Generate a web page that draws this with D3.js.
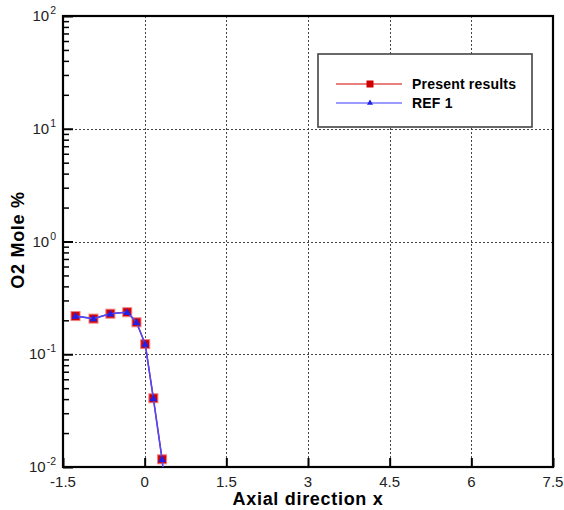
<!DOCTYPE html>
<html>
<head>
<meta charset="utf-8">
<script src="https://cdn.jsdelivr.net/npm/d3@7"></script>
<style>
  html, body { margin: 0; padding: 0; background: #fff; }
  svg { display: block; font-family: "Liberation Sans", Arial, sans-serif; }
</style>
</head>
<body>
<svg id="chart" width="564" height="510"></svg>
<script>
// Axial positions of the sampled stations
const xPresent = [-1.27, -0.94, -0.63, -0.32, -0.15, 0.01, 0.16, 0.32];
// O2 mole fraction (%) from the present computation
const yPresent = [0.218, 0.207, 0.229, 0.236, 0.192, 0.123, 0.0407, 0.0117];
// Reference data (REF 1); the last station falls below the plotted range
const xRef = [-1.27, -0.94, -0.63, -0.32, -0.15, 0.01, 0.16, 0.32, 0.36];
const yRef = [0.218, 0.207, 0.229, 0.236, 0.192, 0.123, 0.0407, 0.0117, 0.008];

const xTicks = [-1.5, 0, 1.5, 3, 4.5, 6, 7.5];
const xTickLabels = ["-1.5", "0", "1.5", "3", "4.5", "6", "7.5"];
const yDecades = [-2, -1, 0, 1, 2];
const seriesNames = ["Present results", "REF 1"];

const svg = d3.select("#chart");
const L = 63, R = 553, T = 16, B = 467;

const x = d3.scaleLinear().domain([-1.5, 7.5]).range([L, R]);
const y = d3.scaleLog().domain([0.01, 100]).range([B, T]);

svg.append("defs").append("clipPath").attr("id", "plot-clip")
  .append("rect").attr("x", L).attr("y", T).attr("width", R - L).attr("height", B - T);

// Dotted grid at interior major ticks
const grid = svg.append("g").attr("stroke", "#444").attr("stroke-width", 1)
  .attr("stroke-dasharray", "2,2").attr("shape-rendering", "crispEdges");
xTicks.slice(1, -1).forEach(v => {
  grid.append("line").attr("x1", Math.round(x(v)) + 0.5).attr("x2", Math.round(x(v)) + 0.5)
    .attr("y1", T).attr("y2", B);
});
yDecades.slice(1, -1).forEach(e => {
  grid.append("line").attr("y1", Math.round(y(Math.pow(10, e))) + 0.5)
    .attr("y2", Math.round(y(Math.pow(10, e))) + 0.5).attr("x1", L).attr("x2", R);
});

// Left axis: ticks point inward, minor ticks on every decade
const yAxis = d3.axisRight(y)
  .tickValues(yDecades.map(e => Math.pow(10, e)))
  .tickSize(10).tickFormat("");
const yAx = svg.append("g").attr("transform", `translate(${L},0)`).call(yAxis);
yAx.select(".domain").remove();
yAx.selectAll("line").attr("stroke", "#000").attr("stroke-width", 2);

const minorVals = [];
yDecades.slice(0, -1).forEach(e => {
  for (let k = 2; k <= 9; k++) minorVals.push(k * Math.pow(10, e));
});
const yMinor = d3.axisRight(y).tickValues(minorVals).tickSize(6).tickFormat("");
const yMi = svg.append("g").attr("transform", `translate(${L},0)`).call(yMinor);
yMi.select(".domain").remove();
yMi.selectAll("line").attr("stroke", "#000").attr("stroke-width", 1.5);

// Y tick labels: 10 with superscript exponent
const yLab = svg.append("g").attr("font-size", 15).attr("fill", "#222");
yDecades.forEach(e => {
  const t = yLab.append("text").attr("x", 56).attr("y", y(Math.pow(10, e)) + 5)
    .attr("text-anchor", "end");
  t.append("tspan").text("10");
  t.append("tspan").attr("font-size", 10.5).attr("dy", -7).attr("dx", 1).text(String(e));
});

// Bottom axis: ticks point inward
const xAxis = d3.axisTop(x).tickValues(xTicks).tickSize(9).tickFormat("");
const xAx = svg.append("g").attr("transform", `translate(0,${B})`).call(xAxis);
xAx.select(".domain").remove();
xAx.selectAll("line").attr("stroke", "#000").attr("stroke-width", 2);

svg.append("g").attr("font-size", 15).attr("fill", "#222").attr("text-anchor", "middle")
  .selectAll("text").data(xTicks).join("text")
  .attr("x", d => x(d)).attr("y", 487)
  .text((d, i) => xTickLabels[i]);

// Frame
svg.append("rect").attr("x", L).attr("y", T).attr("width", R - L).attr("height", B - T)
  .attr("fill", "none").attr("stroke", "#000").attr("stroke-width", 2.2);

// Series
const plot = svg.append("g").attr("clip-path", "url(#plot-clip)");
const present = xPresent.map((v, i) => [v, yPresent[i]]);
const ref = xRef.map((v, i) => [v, yRef[i]]);
const line = d3.line().x(d => x(d[0])).y(d => y(d[1]));

plot.append("path").datum(present).attr("d", line)
  .attr("fill", "none").attr("stroke", "#d40000").attr("stroke-width", 1.3);
plot.selectAll("rect.pr").data(present).join("rect").attr("class", "pr")
  .attr("x", d => x(d[0]) - 4.5).attr("y", d => y(d[1]) - 4.5)
  .attr("width", 9).attr("height", 9)
  .attr("fill", "#d20000").attr("stroke", "#f08080").attr("stroke-width", 1);

plot.append("path").datum(ref).attr("d", line)
  .attr("fill", "none").attr("stroke", "#4a4aff").attr("stroke-width", 1.6);
const tri = d3.symbol().type(d3.symbolTriangle).size(26);
plot.selectAll("path.rf").data(ref.slice(0, xPresent.length)).join("path").attr("class", "rf")
  .attr("d", tri)
  .attr("transform", d => `translate(${x(d[0])},${y(d[1]) + 0.5})`)
  .attr("fill", "#2020e8");

// Legend
const lg = svg.append("g");
lg.append("rect").attr("x", 318).attr("y", 54).attr("width", 214).attr("height", 73)
  .attr("fill", "#fff").attr("stroke", "#444").attr("stroke-width", 1.6);
const legColors = ["#d40000", "#3a3aff"];
const legY = [84, 103];
seriesNames.forEach((name, i) => {
  lg.append("line").attr("x1", 336).attr("x2", 402).attr("y1", legY[i]).attr("y2", legY[i])
    .attr("stroke", legColors[i]).attr("stroke-width", 1.2);
  lg.append("text").attr("x", 412).attr("y", legY[i] + 5)
    .attr("font-size", 14).attr("font-weight", "bold").attr("letter-spacing", 0.2).text(name);
});
lg.append("rect").attr("x", 366.5).attr("y", 80.5).attr("width", 7).attr("height", 7)
  .attr("fill", "#d00000");
lg.append("path").attr("d", d3.symbol().type(d3.symbolTriangle).size(16))
  .attr("transform", `translate(370,${legY[1]})`).attr("fill", "#2020e8");

// Axis titles
svg.append("text").attr("x", 308).attr("y", 505).attr("text-anchor", "middle")
  .attr("font-size", 18).attr("font-weight", "bold").attr("letter-spacing", 0.7)
  .text("Axial direction x");
svg.append("text").attr("transform", "translate(24,240) rotate(-90)")
  .attr("text-anchor", "middle").attr("font-size", 18).attr("font-weight", "bold")
  .attr("letter-spacing", 0.7).text("O2 Mole %");
</script>
</body>
</html>
